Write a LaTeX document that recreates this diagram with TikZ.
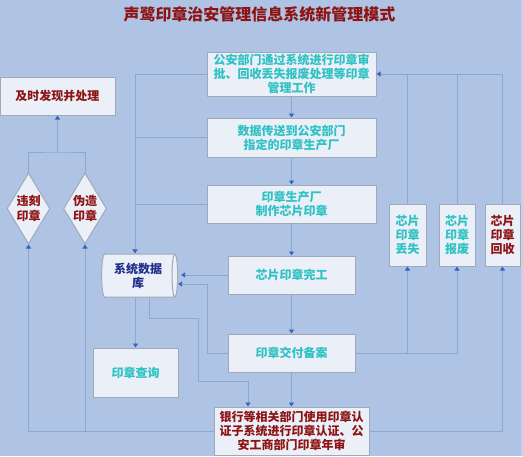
\documentclass[tikz,border=0pt]{standalone}
\usepackage{fontspec}
\setmainfont{Noto Sans CJK SC}
\usetikzlibrary{arrows.meta,positioning,shapes.geometric,shadows}
\definecolor{bgblue}{HTML}{AFC4E4}
\definecolor{edgestrip}{HTML}{C3D2EB}
\definecolor{lineblue}{HTML}{8DA7D3}
\definecolor{tipblue}{HTML}{3466BC}
\definecolor{boxfill}{HTML}{EAEFF8}
\definecolor{boxedge}{HTML}{A0A9B8}
\definecolor{tealtext}{HTML}{2FC2C4}
\definecolor{darkred}{HTML}{8E1414}
\definecolor{navy}{HTML}{1E2E8A}
\tikzset{
  flowbox/.style={draw=boxedge, line width=1pt, fill=boxfill, inner sep=0pt,
    align=center, text=tealtext, font=\bfseries\fontsize{12}{14}\selectfont,
    drop shadow={shadow xshift=0.8pt, shadow yshift=-0.8pt, fill=boxedge!70!black, opacity=0.45}},
  redbox/.style={flowbox, text=darkred},
  checkdiamond/.style={shape=diamond, draw=boxedge, line width=1pt, fill=boxfill,
    inner sep=0pt, aspect=0.6, minimum width=43pt, minimum height=71pt,
    align=center, text=darkred, font=\bfseries\fontsize{12}{14.5}\selectfont},
  link/.style={draw=lineblue, line width=0.9pt},
  flowarrow/.style={-{Triangle[width=5pt,length=4pt,color=tipblue]}}
}

\begin{document}
\begin{tikzpicture}[x=1pt, y=-1pt]
  \fill[bgblue] (0,0) rectangle (523,456);
  \fill[edgestrip] (521,0) rectangle (523,456);
  \useasboundingbox (0,0) rectangle (523,456);

  \node[text=darkred, font=\bfseries\fontsize{16}{18}\selectfont] (title) at (259.5,14) {声鹭印章治安管理信息系统新管理模式};

  % middle column
  \node[flowbox, minimum width=169pt, minimum height=44pt] (gongan) at (291.5,74)
    {公安部门通过系统进行印章审\\批、回收丢失报废处理等印章\\管理工作};
  \node[flowbox, minimum width=169pt, minimum height=39pt] (chuansong) at (291.5,137.5)
    {数据传送到公安部门\\指定的印章生产厂};
  \node[flowbox, minimum width=169pt, minimum height=38pt] (zhizuo) at (291.5,204)
    {印章生产厂\\制作芯片印章};
  \node[flowbox, minimum width=127pt, minimum height=38pt] (wangong) at (291.5,275) {芯片印章完工};
  \node[flowbox, minimum width=127pt, minimum height=38pt] (beian) at (291.5,353) {印章交付备案};
  \node[redbox, minimum width=155pt, minimum height=48pt] (renzheng) at (291.5,431)
    {银行等相关部门使用印章认\\证子系统进行印章认证、公\\安工商部门印章年审};

  % left side
  \node[redbox, minimum width=115pt, minimum height=38pt] (chuli) at (57.5,96) {及时发现并处理};
  \node[checkdiamond] (weike) at (28.5,208.5) {违刻\\印章};
  \node[checkdiamond] (weizao) at (85,208.5) {伪造\\印章};
  \node[shape=cylinder, draw=boxedge, line width=1pt, fill=boxfill, aspect=0.22,
    minimum width=43pt, minimum height=76pt, inner sep=0pt, align=center, text=navy,
    font=\bfseries\fontsize{12}{14}\selectfont] (shujuku) at (138,275.5) {系统数据\\库};
  \node[flowbox, minimum width=85pt, minimum height=49pt] (chaxun) at (135.5,372.5) {印章查询};

  % right side
  \node[flowbox, minimum width=37pt, minimum height=62pt] (diushi) at (407.5,235) {芯片\\印章\\丢失};
  \node[flowbox, minimum width=36pt, minimum height=62pt] (baofei) at (457,235) {芯片\\印章\\报废};
  \node[redbox, minimum width=35pt, minimum height=62pt] (huishou) at (502.5,235) {芯片\\印章\\回收};

  \foreach \a/\b in {gongan/chuansong, chuansong/zhizuo, zhizuo/wangong, wangong/beian, beian/renzheng}
    \draw[link, flowarrow] (\a) -- (\b);

  % everything is written into the database
  \coordinate (trunk) at (135,74);
  \draw[link] (gongan.west) -- (trunk);
  \draw[link, flowarrow] (trunk) -- (trunk |- shujuku.north);
  \draw[link] (chuansong.west) -- (chuansong.west -| trunk);
  \draw[link] (zhizuo.west) -- (zhizuo.west -| trunk);
  \draw[link, flowarrow, shorten >=3pt] (wangong.west) -- (wangong.west -| shujuku.east);
  \coordinate (beianturn) at (207,284);
  \draw[link, flowarrow] (beian.west) -| (beianturn) -- (beianturn -| shujuku.east);

  % database lookups
  \draw[link, flowarrow] (chaxun.north |- shujuku.south) -- (chaxun.north);
  \coordinate (bend) at (198,381);
  \draw[link, flowarrow] ([xshift=11pt]shujuku.south) |- (198,318) -- (bend)
    -| ([xshift=-43.5pt]renzheng.north);

  % chip returns go back to the police
  \draw[link, flowarrow] (huishou.north) |- (gongan.east);
  \draw[link] (diushi.north) -- (diushi.north |- gongan.east);
  \draw[link] (baofei.north) -- (baofei.north |- gongan.east);
  \draw[link, flowarrow] (beian.east) -| (baofei.south);
  \draw[link, flowarrow] (diushi.south |- beian.east) -- (diushi.south);
  \draw[link, flowarrow] (renzheng.east) -| (huishou.south);

  % checks found at certification
  \draw[link, flowarrow] (renzheng.west) -| (weike.south);
  \draw[link, flowarrow] (weizao.south |- renzheng.west) -- (weizao.south);
  \coordinate (join) at (57.5,152);
  \draw[link] (weike.north) |- (join) -| (weizao.north);
  \draw[link, flowarrow] (join) -- (chuli.south);
\end{tikzpicture}
\end{document}
